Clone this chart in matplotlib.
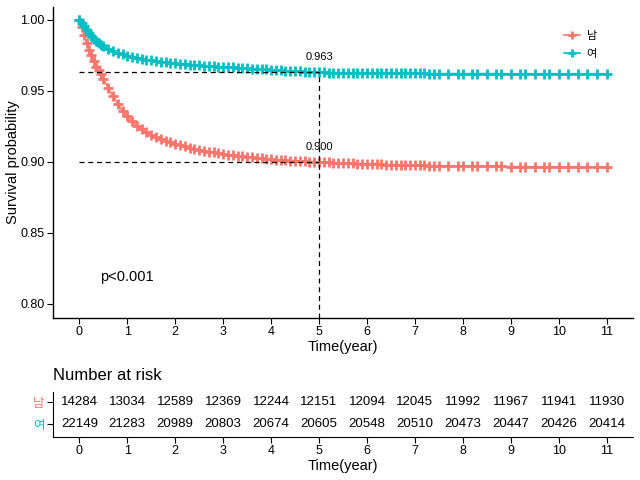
import matplotlib
matplotlib.use("Agg")
import matplotlib.pyplot as plt

plt.rcParams['font.family'] = ['Liberation Sans', 'Noto Sans CJK KR', 'DejaVu Sans']

groups = ["남", "여"]
colors = ["#F8766D", "#00BFC4"]

surv_time = [0, 0.05, 0.1, 0.15, 0.2, 0.25, 0.3, 0.35, 0.4, 0.45, 0.5, 0.6, 0.7, 0.8, 0.9,
             1.0, 1.1, 1.2, 1.3, 1.4, 1.5, 1.6, 1.7, 1.8, 1.9, 2.0, 2.1, 2.2, 2.3, 2.4, 2.5,
             2.6, 2.7, 2.8, 2.9, 3.0, 3.1, 3.2, 3.3, 3.4, 3.5, 3.6, 3.7, 3.8, 3.9, 4.0,
             4.1, 4.2, 4.3, 4.4, 4.5, 4.6, 4.7, 4.8, 4.9, 5.0,
             5.1, 5.2, 5.3, 5.4, 5.5, 5.6, 5.7, 5.8, 5.9, 6.0, 6.1, 6.2, 6.3, 6.4, 6.5,
             6.6, 6.7, 6.8, 6.9, 7.0, 7.1, 7.2, 7.3, 7.4, 7.5,
             7.7, 7.9, 8.0, 8.2, 8.3, 8.5, 8.7, 8.8, 9.0, 9.2, 9.3, 9.5, 9.7, 9.8,
             10.0, 10.2, 10.4, 10.6, 10.8, 11.0]

male_surv = [1.000, 0.995, 0.989, 0.984, 0.979, 0.975, 0.971, 0.967, 0.9645, 0.962, 0.9585,
             0.952, 0.9465, 0.941, 0.936, 0.932, 0.9285, 0.9255, 0.923, 0.9208, 0.919,
             0.9175, 0.916, 0.9147, 0.9136, 0.9126, 0.9117, 0.9108, 0.9100, 0.9092, 0.9085,
             0.9078, 0.9072, 0.9066, 0.9060, 0.9055, 0.9050, 0.9046, 0.9042, 0.9038, 0.9034,
             0.9031, 0.9027, 0.9024, 0.9021, 0.9018, 0.9015, 0.9013, 0.9011, 0.9009, 0.9007,
             0.9005, 0.9003, 0.9002, 0.9001, 0.9000,
             0.8998, 0.8996, 0.8995, 0.8993, 0.8992, 0.8990, 0.8989, 0.8987, 0.8986, 0.8984,
             0.8983, 0.8982, 0.8981, 0.8980, 0.8979, 0.8978, 0.8977, 0.8976, 0.8976, 0.8975,
             0.8974, 0.8974, 0.8973, 0.8972, 0.8972,
             0.8971, 0.8970, 0.8969, 0.8969, 0.8968, 0.8968, 0.8967, 0.8967, 0.8966, 0.8966,
             0.8965, 0.8965, 0.8965, 0.8964, 0.8964, 0.8964, 0.8964, 0.8963, 0.8963, 0.8963]

female_surv = [1.000, 0.998, 0.9955, 0.993, 0.9905, 0.9885, 0.9868, 0.9852, 0.9838, 0.9825,
               0.9813, 0.9795, 0.978, 0.9767, 0.9756, 0.9746, 0.9738, 0.9731, 0.9725, 0.9719,
               0.9714, 0.9709, 0.9705, 0.9701, 0.9697, 0.9694, 0.9691, 0.9688, 0.9685, 0.9682,
               0.9680, 0.9677, 0.9675, 0.9672, 0.9670, 0.9668, 0.9666, 0.9664, 0.9662, 0.9660,
               0.9658, 0.9656, 0.9654, 0.9652, 0.9650, 0.9648, 0.9646, 0.9644, 0.9642, 0.9640,
               0.9638, 0.9636, 0.9635, 0.9633, 0.9632, 0.9630,
               0.9629, 0.9628, 0.9628, 0.9627, 0.9627, 0.9626, 0.9626, 0.9625, 0.9625, 0.9624,
               0.9624, 0.9624, 0.9623, 0.9623, 0.9623, 0.9623, 0.9622, 0.9622, 0.9622, 0.9622,
               0.9622, 0.9622, 0.9621, 0.9621, 0.9621,
               0.9621, 0.9621, 0.9621, 0.9621, 0.9621, 0.9621, 0.9621, 0.9620, 0.9620, 0.9620,
               0.9620, 0.9620, 0.9620, 0.9620, 0.9620, 0.9620, 0.9620, 0.9620, 0.9620, 0.9620]

median_time = 5
surv_at_5 = [0.900, 0.963]
p_text = "p<0.001"

risk_times = list(range(12))
risk_male = [14284, 13034, 12589, 12369, 12244, 12151, 12094, 12045, 11992, 11967, 11941, 11930]
risk_female = [22149, 21283, 20989, 20803, 20674, 20605, 20548, 20510, 20473, 20447, 20426, 20414]

fig = plt.figure(figsize=(6.4, 4.8), dpi=100)
W, H = 640, 480

def axes_px(l, t, r, b):
    return fig.add_axes([l / W, 1 - b / H, (r - l) / W, (b - t) / H])

ax = axes_px(53, 7, 633, 318)
for s, c, g in zip([male_surv, female_surv], colors, groups):
    ax.plot(surv_time, s, color=c, lw=1.2, marker='+', ms=6.5, mew=2.0, label=g)

for s5 in surv_at_5:
    ax.plot([0, median_time], [s5, s5], color='black', ls=(0, (4, 3)), lw=0.9)
    ax.text(median_time, s5 + 0.007, f"{s5:.3f}", ha='center', va='bottom', fontsize=8)
ax.plot([median_time, median_time], [0.79, max(surv_at_5)], color='black', ls=(0, (4, 3)), lw=0.9)

ax.text(1.0, 0.819, p_text, ha='center', va='center', fontsize=10.5)

ax.set_xlim(-0.55, 11.55)
ax.set_ylim(0.790, 1.009)
ax.set_xticks(risk_times)
ax.set_yticks([0.80, 0.85, 0.90, 0.95, 1.00])
ax.set_yticklabels(["0.80", "0.85", "0.90", "0.95", "1.00"])
ax.set_xlabel("Time(year)", fontsize=10.5, labelpad=1)
ax.set_ylabel("Survival probability", fontsize=10.5, labelpad=0)
for sp in ['top', 'right']:
    ax.spines[sp].set_visible(False)
for sp in ['left', 'bottom']:
    ax.spines[sp].set_linewidth(1.0)
ax.tick_params(axis='both', labelsize=9, length=4, width=0.8, pad=2)

leg = ax.legend(loc='upper right', bbox_to_anchor=(0.955, 0.955), frameon=False, fontsize=8,
                handlelength=1.4, handletextpad=0.6, labelspacing=0.75, markerscale=0.8)

# risk table
rt = axes_px(53, 392, 633, 437)
for i, c in enumerate(risk_times):
    rt.text(c, 1, str(risk_male[i]), ha='center', va='center', fontsize=9.5)
    rt.text(c, 0, str(risk_female[i]), ha='center', va='center', fontsize=9.5)
rt.set_xlim(-0.55, 11.55)
rt.set_ylim(-0.59, 1.455)
rt.set_xticks(risk_times)
rt.set_yticks([1, 0])
rt.set_yticklabels(groups, fontsize=10.5)
for lbl, c in zip(rt.get_yticklabels(), colors):
    lbl.set_color(c)
for sp in ['top', 'right']:
    rt.spines[sp].set_visible(False)
rt.tick_params(axis='both', labelsize=9, length=4, width=0.8, pad=2)
rt.set_xlabel("Time(year)", fontsize=10.5, labelpad=1)
rt.set_title("Number at risk", loc='left', fontsize=12, pad=9, x=0.0)

fig.savefig("out.png", dpi=100)
